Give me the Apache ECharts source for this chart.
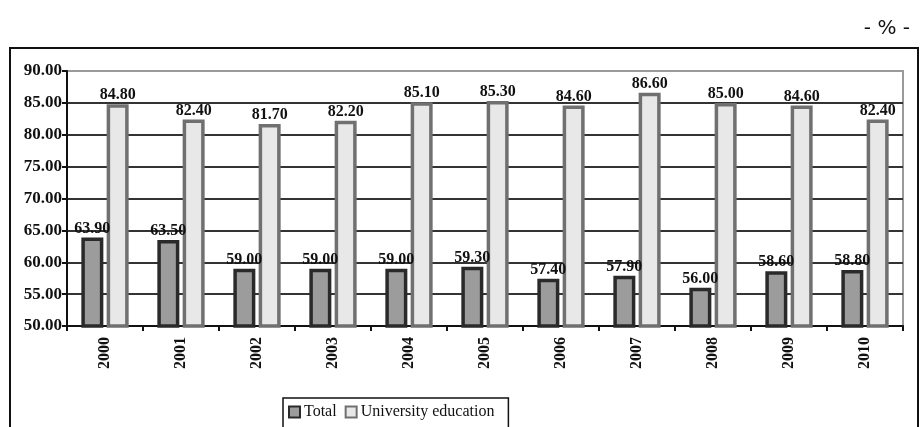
<!DOCTYPE html>
<html><head><meta charset="utf-8">
<script src="https://cdn.jsdelivr.net/npm/echarts@6/dist/echarts.min.js"></script>
<style>
html,body{margin:0;padding:0;background:#fff;width:920px;height:427px;overflow:hidden;}
#frame{position:absolute;left:9px;top:47px;width:906px;height:400px;border:2px solid #111;}
#c{position:absolute;left:0;top:0;width:920px;height:427px;}
</style></head>
<body>
<div id="frame"></div>
<div id="c"></div>
<script>
var categories = ['2000','2001','2002','2003','2004','2005','2006','2007','2008','2009','2010'];
var totalValues = [63.90, 63.50, 59.00, 59.00, 59.00, 59.30, 57.40, 57.90, 56.00, 58.60, 58.80];
var univValues = [84.80, 82.40, 81.70, 82.20, 85.10, 85.30, 84.60, 86.60, 85.00, 84.60, 82.40];
var seriesNames = ['Total', 'University education'];

var serif = '"Liberation Serif", "DejaVu Serif", serif';
var chart = echarts.init(document.getElementById('c'), null, {renderer:'canvas'});
var labelStyle = {
  show: true, position: 'top', distance: 1,
  fontFamily: serif, fontWeight: 'bold', fontSize: 16, color: '#111',
  formatter: function(p){ return p.value.toFixed(2); }
};
chart.setOption({
  animation: false,
  title: {
    text: '- % -', right: 5, top: 14,
    textStyle: {fontFamily: '"DejaVu Sans", sans-serif', fontWeight: 'normal', fontSize: 20, color: '#111'}
  },
  grid: {left: 67, right: 17, top: 71, bottom: 101, show: true, borderColor: '#9a9a9a', borderWidth: 2},
  legend: {
    left: 283, top: 398, itemWidth: 11, itemHeight: 11, itemGap: 8, icon: 'rect',
    borderColor: '#111', borderWidth: 1.5, padding: [6, 14, 12, 5],
    textStyle: {fontFamily: serif, fontSize: 16, color: '#111', padding: [0, 0, 0, -1]},
    data: seriesNames
  },
  xAxis: {
    type: 'category', data: categories,
    axisLine: {lineStyle: {color: '#111', width: 2}},
    axisTick: {show: true, length: 5, lineStyle: {color: '#111', width: 2}},
    axisLabel: {rotate: 90, margin: 11, fontFamily: serif, fontWeight: 'bold', fontSize: 16, color: '#111'}
  },
  yAxis: {
    type: 'value', min: 50, max: 90, interval: 5,
    axisLine: {show: true, lineStyle: {color: '#111', width: 2}},
    axisTick: {show: true, length: 5, lineStyle: {color: '#111', width: 2}},
    axisLabel: {margin: 5, fontFamily: serif, fontWeight: 'bold', fontSize: 17, color: '#111',
      formatter: function(v){ return v.toFixed(2); }},
    splitLine: {show: true, lineStyle: {color: ['#333','#333','#333','#333','#333','#333','#333','#333','#9a9a9a'], width: 2}}
  },
  series: [
    {
      name: seriesNames[0], type: 'bar', data: totalValues,
      barWidth: 22, barGap: '15%',
      itemStyle: {color: '#9c9c9c', borderColor: '#2a2a2a', borderWidth: 3.5},
      label: labelStyle
    },
    {
      name: seriesNames[1], type: 'bar', data: univValues,
      barWidth: 22,
      itemStyle: {color: '#e8e8e8', borderColor: '#707070', borderWidth: 3.5},
      label: labelStyle
    }
  ]
});
</script>
</body></html>
